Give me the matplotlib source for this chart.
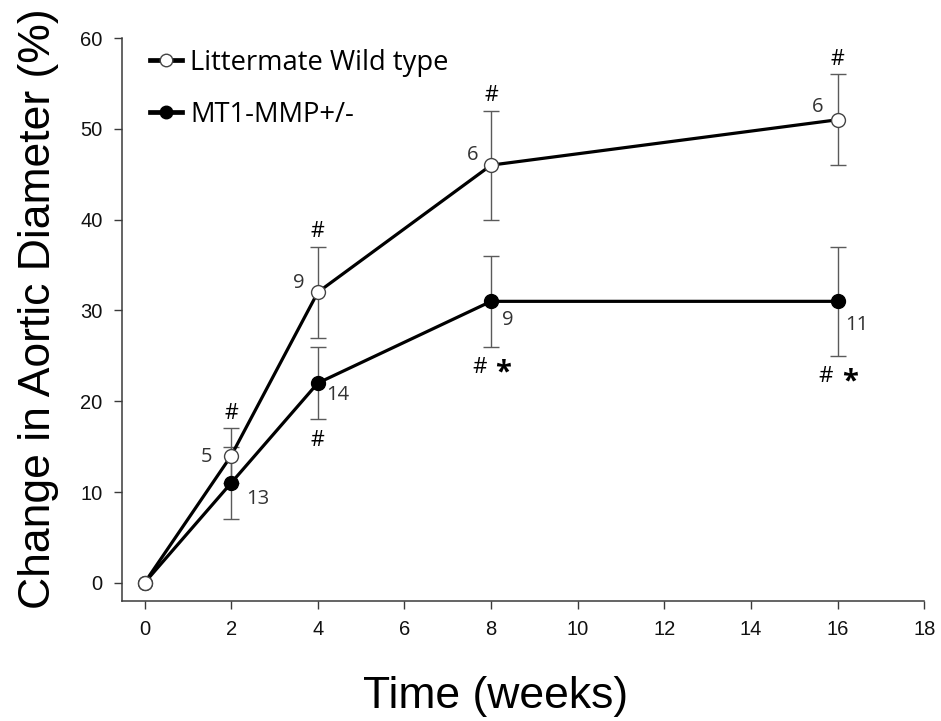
import matplotlib
matplotlib.use("Agg")
import matplotlib.pyplot as plt
from matplotlib.lines import Line2D

# Time points (weeks) and change in aortic diameter (%)
weeks = [0, 2, 4, 8, 16]
wt_mean = [0, 14, 32, 46, 51]
wt_err = [0, 3, 5, 6, 5]
mt_mean = [0, 11, 22, 31, 31]
mt_err = [0, 4, 4, 5, 6]

# Group sizes and significance marks per time point
wt_n = ["", "5", "9", "6", "6"]
mt_n = ["", "13", "14", "9", "11"]
wt_sig = ["", "#", "#", "#", "#"]
mt_sig = ["", "", "#", "# *", "# *"]

series_labels = ["Littermate Wild type", "MT1-MMP+/-"]
x_ticks = [0, 2, 4, 6, 8, 10, 12, 14, 16, 18]
y_ticks = [0, 10, 20, 30, 40, 50, 60]

ARIAL = "Liberation Sans"
SEGOE = "Open Sans"
PX = 0.72  # points per pixel at 100 dpi

fig = plt.figure(figsize=(9.41, 7.21), dpi=100)
ax = fig.add_axes([122 / 941, 1 - 601 / 721, (924.4 - 122) / 941, (601 - 38) / 721])

ax.set_xlim(-0.52, 18)
ax.set_ylim(-2, 60)
ax.spines["top"].set_visible(False)
ax.spines["right"].set_visible(False)
for s in ("left", "bottom"):
    ax.spines[s].set_color("#3a3a3a")
    ax.spines[s].set_linewidth(1.1)
ax.spines["left"].set_bounds(-2, 60)
ax.spines["bottom"].set_bounds(-0.52, 18)

ax.set_xticks(x_ticks)
ax.set_yticks(y_ticks)
ax.tick_params(axis="both", direction="out", length=5.5, width=1.0,
               color="#3a3a3a", pad=8.5, labelsize=14.5, labelcolor="#111111")
for lab in ax.get_xticklabels() + ax.get_yticklabels():
    lab.set_fontfamily(ARIAL)

ax.set_xlabel("Time (weeks)", fontsize=32, family=ARIAL, va="baseline")
ax.xaxis.set_label_coords(0.465, (601 - 708) / 563)
ax.set_ylabel("Change in Aortic Diameter (%)", fontsize=32, family=ARIAL, va="baseline")
ax.yaxis.set_label_coords((50 - 122) / 802, (601 - 308.5) / 563)

# error bars (drawn underneath the lines and markers)
ebar_kw = dict(fmt="none", ecolor="#5a5a5a", elinewidth=1.0, capsize=6, capthick=1.0)
ax.errorbar(weeks[1:], wt_mean[1:], yerr=wt_err[1:], zorder=1, **ebar_kw)
ax.errorbar(weeks[1:], mt_mean[1:], yerr=mt_err[1:], zorder=1, **ebar_kw)

ax.plot(weeks, mt_mean, color="black", lw=2.3, marker="o", ms=10,
        mfc="black", mec="black", zorder=2)
ax.plot(weeks, wt_mean, color="black", lw=2.3, marker="o", ms=10,
        mfc="white", mec="#444444", mew=1.0, zorder=3)

# group-size labels
wt_n_off = [(0, 0), (-25, -1), (-19, 9), (-19, 10), (-20, 13)]
mt_n_off = [(0, 0), (27, -16), (20, -12), (17, -19), (19, -24)]
for t, m, n, off in zip(weeks, wt_mean, wt_n, wt_n_off):
    if n:
        ax.annotate(n, (t, m), xytext=(off[0] * PX, off[1] * PX),
                    textcoords="offset points", ha="center", va="center",
                    fontsize=14.5, family=SEGOE, color="#333333")
for t, m, n, off in zip(weeks, mt_mean, mt_n, mt_n_off):
    if n:
        ax.annotate(n, (t, m), xytext=(off[0] * PX, off[1] * PX),
                    textcoords="offset points", ha="center", va="center",
                    fontsize=14.5, family=SEGOE, color="#333333")


def sig_mark(t, y, text, dy_px):
    parts = text.split()
    if len(parts) == 1:
        ax.annotate("#", (t, y), xytext=(0, dy_px * PX), textcoords="offset points",
                    ha="center", va="center", fontsize=15.5, family=SEGOE, color="black")
    else:
        ax.annotate("#", (t, y), xytext=(-12 * PX, dy_px * PX), textcoords="offset points",
                    ha="center", va="center", fontsize=16, family=SEGOE, color="black")
        ax.annotate("*", (t, y), xytext=(12 * PX, (dy_px - 5) * PX), textcoords="offset points",
                    ha="center", va="center", fontsize=21, family=SEGOE,
                    weight="bold", color="black")


for t, m, e, s in zip(weeks, wt_mean, wt_err, wt_sig):
    if s:
        sig_mark(t, m + e, s, 15)
for t, m, e, s in zip(weeks, mt_mean, mt_err, mt_sig):
    if s:
        sig_mark(t, m - e, s, -21)

handles = [
    Line2D([], [], color="black", lw=3.4, marker="o", ms=9, mfc="white",
           mec="#444444", mew=1.0),
    Line2D([], [], color="black", lw=3.4, marker="o", ms=9, mfc="black", mec="black"),
]
ax.legend(handles, series_labels, loc="upper left",
          bbox_to_anchor=((150 - 122) / 802, (601 - 49) / 563),
          frameon=False, borderaxespad=0, borderpad=0,
          handlelength=1.17, handletextpad=0.3, labelspacing=0.87,
          prop={"family": SEGOE, "size": 19.7})

fig.savefig("out.png", dpi=100)
